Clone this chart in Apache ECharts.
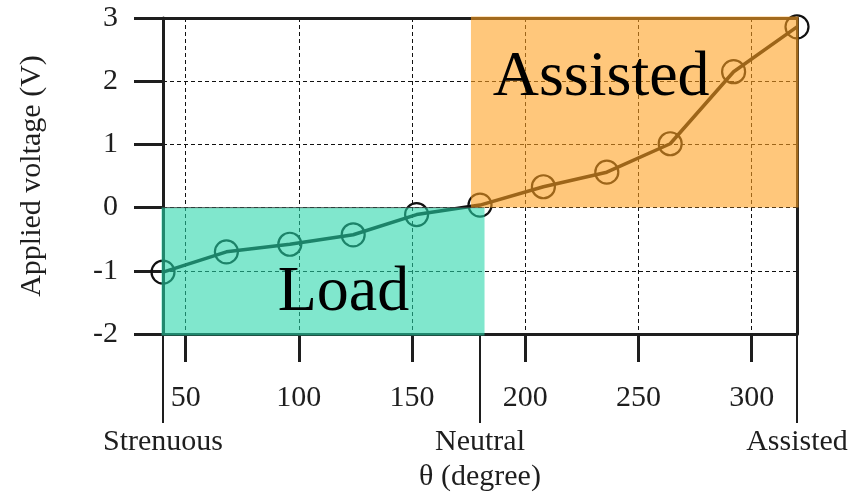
<!DOCTYPE html>
<html>
<head>
<meta charset="utf-8">
<script src="https://cdn.jsdelivr.net/npm/echarts@6/dist/echarts.min.js"></script>
<style>
html,body{margin:0;padding:0;background:#fff;}
#chart{width:856px;height:503px;}
</style>
</head>
<body>
<div id="chart"></div>
<script>
// ---- data ----
var theta = [40, 68, 96, 124, 152, 180, 208, 236, 264, 292, 320];
var voltage = [-1.02, -0.70, -0.58, -0.43, -0.11, 0.04, 0.33, 0.56, 1.01, 2.15, 2.86];
var xTicks = [50, 100, 150, 200, 250, 300];
var modeLabels = ['Strenuous', 'Neutral', 'Assisted'];
var regionNames = ['Load', 'Assisted'];
var regionX0 = [40, 176];
var regionX1 = [182, 320];
var regionY0 = [-2, 0];
var regionY1 = [0, 3];
var annotX = [119.7, 233.5];
var annotY = [-1.36, 2.04];
var xMin = 40, xMax = 320, yMin = -2, yMax = 3;

// ---- build ----
var lineData = theta.map(function (t, i) { return [t, voltage[i]]; });
var regionData = regionNames.map(function (n, i) { return [regionX0[i], regionX1[i], regionY0[i], regionY1[i], i]; });
var annotData = regionNames.map(function (n, i) { return [annotX[i], annotY[i], i]; });
var regionFill = ['rgba(36,214,168,0.58)', 'rgba(255,160,30,0.59)'];

var FONT = 'Liberation Serif';
var INK = '#1e1e1e';

var chart = echarts.init(document.getElementById('chart'), null, {renderer: 'canvas'});
chart.setOption({
  animation: false,
  backgroundColor: '#fff',
  grid: {left: 163, top: 18, width: 634, height: 316, containLabel: false},
  xAxis: [
    {
      type: 'value', min: xMin, max: xMax, position: 'bottom',
      axisLine: {show: true, onZero: false, lineStyle: {color: INK, width: 3}},
      axisTick: {show: true, inside: false, length: 28, customValues: xTicks, lineStyle: {color: INK, width: 3}},
      axisLabel: {show: true, customValues: xTicks, margin: 49, fontSize: 30, fontFamily: FONT, color: INK},
      splitLine: {show: true, lineStyle: {color: '#111', width: 1, type: [4, 3]}}
    },
    {
      type: 'category', data: modeLabels, boundaryGap: false, position: 'bottom',
      axisLine: {show: false, onZero: false},
      axisTick: {show: true, length: 89, lineStyle: {color: INK, width: 2}},
      axisLabel: {show: true, interval: 0, margin: 93, fontSize: 30, fontFamily: FONT, color: INK},
      splitLine: {show: false},
      name: 'θ (degree)', nameLocation: 'middle', nameGap: 113,
      nameTextStyle: {fontSize: 30, fontFamily: FONT, color: INK}
    },
    {
      type: 'value', min: xMin, max: xMax, position: 'top',
      axisLine: {show: true, onZero: false, lineStyle: {color: INK, width: 3}},
      axisTick: {show: false}, axisLabel: {show: false}, splitLine: {show: false}
    }
  ],
  yAxis: [
    {
      type: 'value', min: yMin, max: yMax, interval: 1, position: 'left',
      axisLine: {show: true, onZero: false, lineStyle: {color: INK, width: 3}},
      axisTick: {show: true, inside: false, length: 29, lineStyle: {color: INK, width: 3}},
      axisLabel: {show: true, margin: 45, fontSize: 30, fontFamily: FONT, color: INK},
      splitLine: {show: true, lineStyle: {color: '#111', width: 1, type: [4, 3]}},
      name: 'Applied voltage (V)', nameLocation: 'middle', nameGap: 116,
      nameTextStyle: {fontSize: 30, fontFamily: FONT, color: INK}
    },
    {
      type: 'value', min: yMin, max: yMax, interval: 1, position: 'right',
      axisLine: {show: true, onZero: false, lineStyle: {color: INK, width: 3}},
      axisTick: {show: false}, axisLabel: {show: false}, splitLine: {show: false}
    }
  ],
  series: [
    {
      type: 'line', xAxisIndex: 0, yAxisIndex: 0, data: lineData, z: 3, clip: false,
      symbol: 'circle', symbolSize: 23,
      lineStyle: {color: '#111', width: 3.5},
      itemStyle: {color: 'rgba(0,0,0,0)', borderColor: '#111', borderWidth: 2.2},
      emphasis: {disabled: true}
    },
    {
      type: 'custom', xAxisIndex: 0, yAxisIndex: 0, data: regionData, z: 10, clip: false,
      encode: {x: [0, 1], y: [2, 3]},
      renderItem: function (params, api) {
        var x0 = api.value(0), x1 = api.value(1), y0 = api.value(2), y1 = api.value(3), k = api.value(4);
        var tl = api.coord([x0, y1]), br = api.coord([x1, y0]);
        var l = tl[0], t = tl[1], r = br[0], b = br[1];
        if (x0 === xMin) l -= 1.5;
        if (x1 === xMax) r += 1.5;
        if (y1 === yMax) t -= 1.5;
        if (y0 === yMin) b += 1.5;
        var children = [{
          type: 'rect', shape: {x: l, y: t, width: r - l, height: b - t},
          style: {fill: regionFill[k]}
        }];
        if (k === 0) {
          children.push({
            type: 'line', shape: {x1: l + 1.5, y1: tl[1], x2: r, y2: tl[1]},
            style: {stroke: 'rgba(60,60,60,0.8)', lineWidth: 1}
          });
        }
        return {type: 'group', children: children};
      }
    },
    {
      type: 'custom', xAxisIndex: 0, yAxisIndex: 0, data: annotData, z: 12, clip: false,
      encode: {x: 0, y: 1},
      renderItem: function (params, api) {
        var p = api.coord([api.value(0), api.value(1)]);
        return {
          type: 'text', x: p[0], y: p[1],
          style: {text: regionNames[api.value(2)], fill: '#000', fontSize: 64, fontFamily: FONT,
                  align: 'center', verticalAlign: 'middle'}
        };
      }
    }
  ]
});
</script>
</body>
</html>
